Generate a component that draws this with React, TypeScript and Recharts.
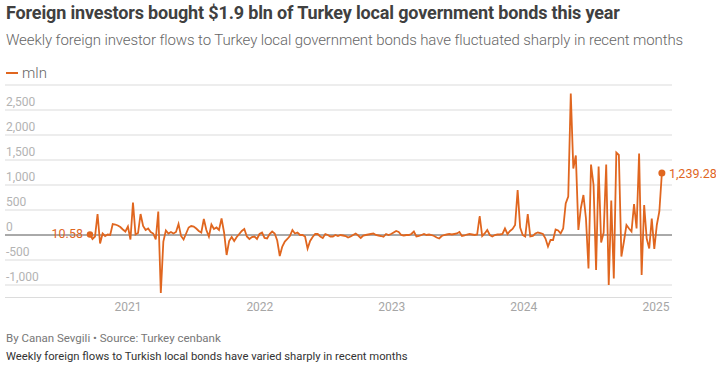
import React from 'react';
import { LineChart, Line, XAxis, YAxis, CartesianGrid, ReferenceLine } from 'recharts';

// weekly flows, mln USD, first week ending 2020-09-18
const firstWeek = Date.UTC(2020, 8, 18);
const weeklyFlows = [
  10.58, -80, -30, 420, -170, 30, -20, 10, 0, 220,
  210, 190, 160, 110, 70, 170, -90, 650, 10, 40,
  420, 180, 100, 130, 60, 30, -90, 470, -1160, -130,
  90, 30, 60, 30, 60, 220, -20, -90, 30, 150,
  180, 170, 130, 80, 50, 320, 100, -30, 210, 120,
  150, 100, 330, 50, -400, -120, -40, -120, -40, 20,
  80, 120, -30, -80, -40, -30, -80, 20, 50, -60,
  -70, 20, 70, 30, -110, -420, -230, -130, -80, -20,
  100, 30, 50, 0, 0, -30, -270, -120, -40, 20,
  20, -30, -60, 20, 0, -30, -30, 0, -20, 0,
  -10, -20, -50, -30, 0, 30, -10, -60, -10, 0,
  10, 20, 30, 0, -10, -20, -35, 20, 0, 20,
  50, 80, 60, 0, -10, 0, 0, 20, 70, -30,
  -20, 0, 20, 0, 10, 0, -20, -50, -70, -20,
  0, 10, 20, 10, 20, 30, 60, -20, -10, 10,
  20, 10, 0, 10, 380, -20, 30, 100, 0, -30,
  0, 10, 10, 20, 130, 20, 80, 120, 200, 900,
  150, 0, -30, 420, -30, -20, 30, 50, 40, 20,
  -70, -230, -100, -100, 110, 90, 30, 130, 630, 770,
  2830, 1330, 1590, 100, 540, 800, 330, -670, 1410, 1000,
  -700, 1370, -150, 50, 1410, -1000, 690, -870, 1650, 1600,
  -430, -130, 200, 130, 70, 620, 130, 1630, -800, 600,
  -70, -270, 330, -280, 200, 470, 1239.28,
];
const yearTicks = [2021, 2022, 2023, 2024, 2025];
const valueTicks = [-1000, -500, 0, 500, 1000, 1500, 2000, 2500];

const DAY = 86400000;
const data = weeklyFlows.map((v, i) => ({ week: firstWeek + i * 7 * DAY, flow: v }));

const ORANGE = '#e0661f';
const FONT = 'Roboto, sans-serif';

const fmt = (v: number) => v.toLocaleString('en-US', { maximumFractionDigits: 2 });

const YTick = (props: any) => {
  const { y, payload } = props;
  return (
    <text x={6} y={y - 4} fill="#b3b3b3" fontSize={12} fontFamily={FONT} textAnchor="start">
      {payload.value.toLocaleString('en-US')}
    </text>
  );
};

const XTick = (props: any) => {
  const { x, payload } = props;
  return (
    <text x={x} y={311} fill="#a6a6a6" fontSize={12} fontFamily={FONT} textAnchor="middle">
      {new Date(payload.value).getUTCFullYear()}
    </text>
  );
};

const EndDot = (props: any) => {
  const { cx, cy, index } = props;
  const last = weeklyFlows.length - 1;
  if (index === 0) {
    return (
      <g key="d-first">
        <circle cx={cx} cy={cy} r={3.2} fill={ORANGE} />
        <text x={cx - 7} y={cy + 4} textAnchor="end" fill={ORANGE} fontSize={12.5} fontFamily={FONT}>
          {fmt(weeklyFlows[0])}
        </text>
      </g>
    );
  }
  if (index === last) {
    return (
      <g key="d-last">
        <circle cx={cx} cy={cy} r={3.5} fill={ORANGE} />
        <text x={cx + 7} y={cy + 4.5} textAnchor="start" fill={ORANGE} fontSize={12.5} fontFamily={FONT}>
          {fmt(weeklyFlows[last])}
        </text>
      </g>
    );
  }
  return <g key={'d' + index} />;
};

export default function App() {
  return (
    <div style={{ position: 'absolute', left: 0, top: 0, width: 716, height: 371, background: '#fff', fontFamily: FONT }}>
      <div style={{ position: 'absolute', left: 6, top: 2, fontSize: 18, fontWeight: 700, color: '#404040', letterSpacing: -0.15, whiteSpace: 'nowrap' }}>
        Foreign investors bought $1.9 bln of Turkey local government bonds this year
      </div>
      <div style={{ position: 'absolute', left: 6, top: 31, fontSize: 15, fontWeight: 300, color: '#666', letterSpacing: -0.1, whiteSpace: 'nowrap' }}>
        Weekly foreign investor flows to Turkey local government bonds have fluctuated sharply in recent months
      </div>
      <div style={{ position: 'absolute', left: 6, top: 64, height: 18, display: 'flex', alignItems: 'center', gap: 4 }}>
        <div style={{ width: 12, height: 2.5, background: ORANGE }} />
        <span style={{ fontSize: 15, fontWeight: 300, color: '#666' }}>mln</span>
      </div>

      <div style={{ position: 'absolute', left: 0, top: 0 }}>
        <LineChart width={716} height={371} data={data} margin={{ top: 85, right: 44, bottom: 72.5, left: 4 }}>
          <CartesianGrid vertical={false} stroke="#dcdcdc" strokeWidth={1.2} />
          <XAxis
            type="number"
            dataKey="week"
            domain={[Date.UTC(2021, 0, 1) - 340 * DAY, Date.UTC(2025, 0, 1) + 44 * DAY]}
            ticks={yearTicks.map((y) => Date.UTC(y, 0, 1))}
            interval={0}
            height={1}
            axisLine={false}
            tickLine={false}
            tick={<XTick />}
          />
          <YAxis
            domain={[-1250, 3000]}
            ticks={valueTicks}
            interval={0}
            width={1}
            axisLine={false}
            tickLine={false}
            tick={<YTick />}
          />
          <ReferenceLine y={0} stroke="#666" strokeWidth={1} />
          <Line
            type="linear"
            dataKey="flow"
            stroke={ORANGE}
            strokeWidth={1.8}
            dot={<EndDot />}
            activeDot={false}
            isAnimationActive={false}
          />
        </LineChart>
      </div>

      <div style={{ position: 'absolute', left: 6, top: 331, fontSize: 11.5, color: '#777', whiteSpace: 'nowrap' }}>
        By Canan Sevgili • Source: Turkey cenbank
      </div>
      <div style={{ position: 'absolute', left: 6, top: 350, fontSize: 11.25, color: '#333', whiteSpace: 'nowrap' }}>
        Weekly foreign flows to Turkish local bonds have varied sharply in recent months
      </div>
    </div>
  );
}
